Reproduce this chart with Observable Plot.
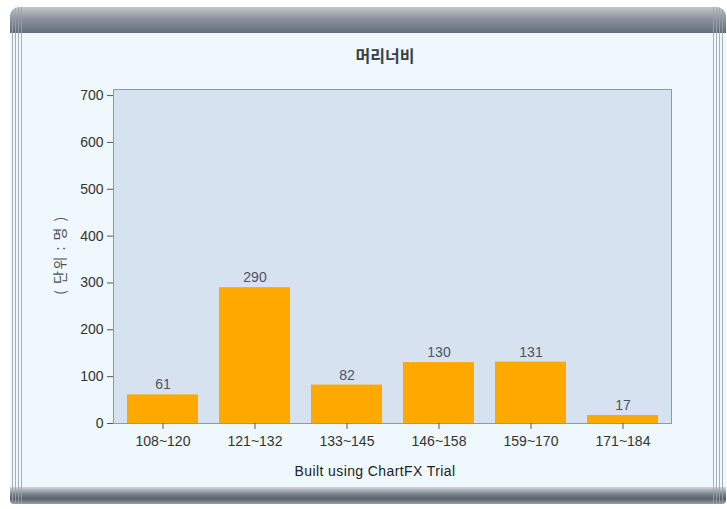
<!DOCTYPE html>
<html>
<head>
<meta charset="utf-8">
<script src="https://cdn.jsdelivr.net/npm/d3@7"></script>
<script src="https://cdn.jsdelivr.net/npm/@observablehq/plot@0.6"></script>
<style>
  html, body { margin: 0; padding: 0; background: #ffffff; }
  #wrap { position: relative; width: 727px; height: 509px; overflow: hidden; font-family: "Liberation Sans", Arial, sans-serif; }
  .panel { position: absolute; left: 10px; top: 7px; width: 716px; height: 497px; background: #eef8fd; border-radius: 9px 9px 4px 4px; overflow: hidden; }
  .topbar { position: absolute; left: 0; top: 0; width: 100%; height: 26px; background: linear-gradient(#c3c8ce, #8d949d 45%, #636c78); }
  .botbar { position: absolute; left: 0; bottom: 0; width: 100%; height: 17px; background: linear-gradient(#d3d7db, #7d858f 40%, #56606c 70%, #9aa1a9); }
  .rails { position: absolute; top: 0; bottom: 0; width: 12px;
           background: repeating-linear-gradient(90deg, #9aa2ab 0 1px, transparent 1px 3px); opacity: 0.85; }
  .rails.l { left: 2px; }
  .rails.r { right: 1px; }
  #title { position: absolute; left: 0; width: 770px; top: 43px; text-align: center; font-family: "Noto Sans CJK KR", sans-serif; font-size: 16px; font-weight: 600; color: #3a3f47; }
  #ylab { position: absolute; left: 59px; top: 255px; transform: translate(-50%, -50%) rotate(-90deg); white-space: nowrap; font-family: "Noto Sans CJK KR", sans-serif; font-size: 14px; letter-spacing: 1.5px; color: #4a505a; }
  #caption { position: absolute; left: 0; width: 750px; top: 463px; text-align: center; font-size: 14px; letter-spacing: 0.4px; color: #222; }
  #chart { position: absolute; left: 0; top: 0; }
</style>
</head>
<body>
<div id="wrap">
  <div class="panel">
    <div class="topbar"></div>
    <div class="botbar"></div>
    <div class="rails l"></div>
    <div class="rails r"></div>
  </div>
  <div id="chart"></div>
  <div id="title">머리너비</div>
  <div id="ylab">( 단위 : 명 )</div>
  <div id="caption">Built using ChartFX Trial</div>
</div>
<script>
// Head width groups (mm) and number of people in each
const categories = ["108~120", "121~132", "133~145", "146~158", "159~170", "171~184"];
const counts = [61, 290, 82, 130, 131, 17];
const yTicks = [0, 100, 200, 300, 400, 500, 600, 700];

const rows = categories.map((c, i) => ({range: c, count: counts[i]}));

const chart = Plot.plot({
  width: 727,
  height: 509,
  marginLeft: 113,
  marginRight: 56,
  marginTop: 89,
  marginBottom: 86,
  style: {background: "transparent", fontFamily: "Liberation Sans, Arial, sans-serif", fontSize: "14px", color: "#333"},
  x: {domain: categories, paddingInner: 0.23, paddingOuter: 0.12, label: null},
  y: {domain: [0, 713], label: null},
  marks: [
    Plot.frame({fill: "#d6e2ef", stroke: "#8f9aa6"}),
    Plot.barY(rows, {x: "range", y: "count", fill: "#ffa800"}),
    Plot.text(rows, {x: "range", y: "count", text: d => String(d.count), dy: -10, fill: "#4c5463", fontSize: 14}),
    Plot.axisY({ticks: yTicks, tickSize: 6, tickPadding: 4, stroke: "#555", fill: "#333", fontSize: 14}),
    Plot.axisX({tickSize: 6, tickPadding: 7, stroke: "#555", fill: "#333", fontSize: 14})
  ]
});
document.getElementById("chart").appendChild(chart);
</script>
</body>
</html>
